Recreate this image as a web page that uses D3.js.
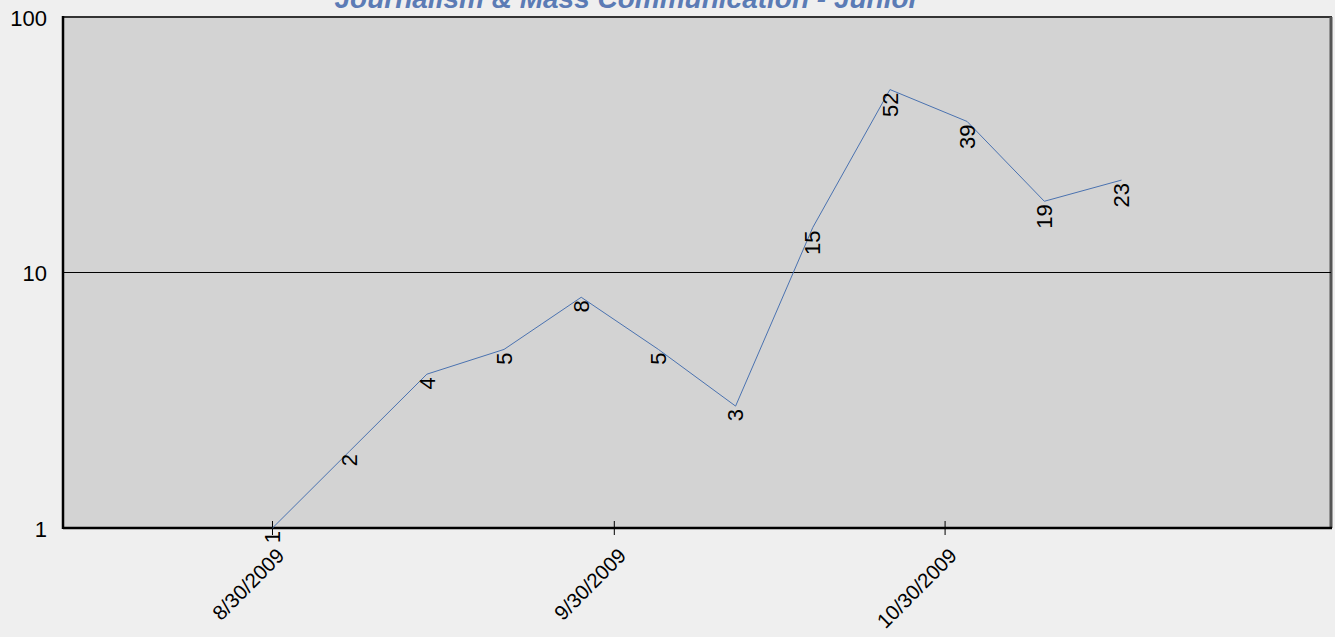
<!DOCTYPE html>
<html><head><meta charset="utf-8">
<script src="https://cdn.jsdelivr.net/npm/d3@7"></script>
<style>
html,body{margin:0;padding:0;background:#efefef;}
svg{display:block;font-family:"Liberation Sans",Arial,sans-serif;}
</style></head>
<body>
<svg id="chart" width="1335" height="637"></svg>
<script>
const title = "Journalism & Mass Communication - Junior";
const dates = ["2009-08-30","2009-09-06","2009-09-13","2009-09-20","2009-09-27","2009-10-04","2009-10-11","2009-10-18","2009-10-25","2009-11-01","2009-11-08","2009-11-15"];
const values = [1,2,4,5,8,5,3,15,52,39,19,23];
const xTickDates = ["2009-08-30","2009-09-30","2009-10-30"];
const xTickLabels = ["8/30/2009","9/30/2009","10/30/2009"];
const yTicks = [1,10,100];
const xDomain = ["2009-08-11","2009-12-04"];

const parse = d3.utcParse("%Y-%m-%d");
const svg = d3.select("#chart");
const m = {left:63, top:17, right:1331, bottom:528};

const x = d3.scaleUtc().domain(xDomain.map(parse)).range([m.left, m.right]);
const y = d3.scaleLog().domain([1,100]).range([m.bottom, m.top]);

// plot background
svg.append("rect").attr("x",m.left).attr("y",m.top)
  .attr("width",m.right-m.left).attr("height",m.bottom-m.top)
  .attr("fill","#d3d3d3").attr("stroke","#333").attr("stroke-width",2);
svg.append("line").attr("x1",m.right).attr("x2",m.right).attr("y1",m.top).attr("y2",m.bottom)
  .attr("stroke","#555").attr("stroke-width",3);

// gridline at 10
svg.append("g").selectAll("line").data(yTicks.filter(d=>d>1&&d<100)).join("line")
  .attr("x1",m.left).attr("x2",m.right).attr("y1",d=>y(d)).attr("y2",d=>y(d))
  .attr("stroke","#000").attr("stroke-width",1);

// left & bottom axis lines
svg.append("line").attr("x1",m.left).attr("x2",m.left).attr("y1",m.top-1).attr("y2",m.bottom+1)
  .attr("stroke","#000").attr("stroke-width",2.5);
svg.append("line").attr("x1",m.left).attr("x2",m.right+1).attr("y1",m.bottom).attr("y2",m.bottom)
  .attr("stroke","#000").attr("stroke-width",2.5);

// y labels
svg.append("g").selectAll("text").data(yTicks).join("text")
  .attr("x",47).attr("y",d=>y(d)+1).attr("dy","0.35em").attr("text-anchor","end")
  .attr("font-size",22).attr("fill","#000").text(d=>d);

// x ticks
const xt = svg.append("g");
xt.selectAll("line").data(xTickDates).join("line")
  .attr("x1",d=>x(parse(d))).attr("x2",d=>x(parse(d)))
  .attr("y1",m.bottom-7).attr("y2",m.bottom+7).attr("stroke","#000").attr("stroke-width",1);
xt.selectAll("text").data(xTickDates).join("text")
  .attr("transform",d=>`translate(${x(parse(d))+13},${m.bottom+29}) rotate(-45)`)
  .attr("text-anchor","end").attr("font-size",20.5).attr("fill","#000")
  .text((d,i)=>xTickLabels[i]);

// line
const pts = dates.map((d,i)=>({d:parse(d), v:values[i]}));
svg.append("path").datum(pts)
  .attr("d", d3.line().x(p=>x(p.d)).y(p=>y(p.v)))
  .attr("fill","none").attr("stroke","#4a72b0").attr("stroke-width",1);

// value labels
svg.append("g").selectAll("text").data(pts).join("text")
  .attr("transform",p=>`translate(${x(p.d)},${y(p.v)+3}) rotate(-90)`)
  .attr("text-anchor","end").attr("dy","0.35em")
  .attr("font-size",22).attr("fill","#000").text(p=>p.v);

// title
svg.append("text").attr("x",627).attr("y",8).attr("text-anchor","middle")
  .attr("font-size",28).attr("font-weight","bold").attr("font-style","italic")
  .attr("fill","#5b7bb5").text(title);
</script>
</body></html>
